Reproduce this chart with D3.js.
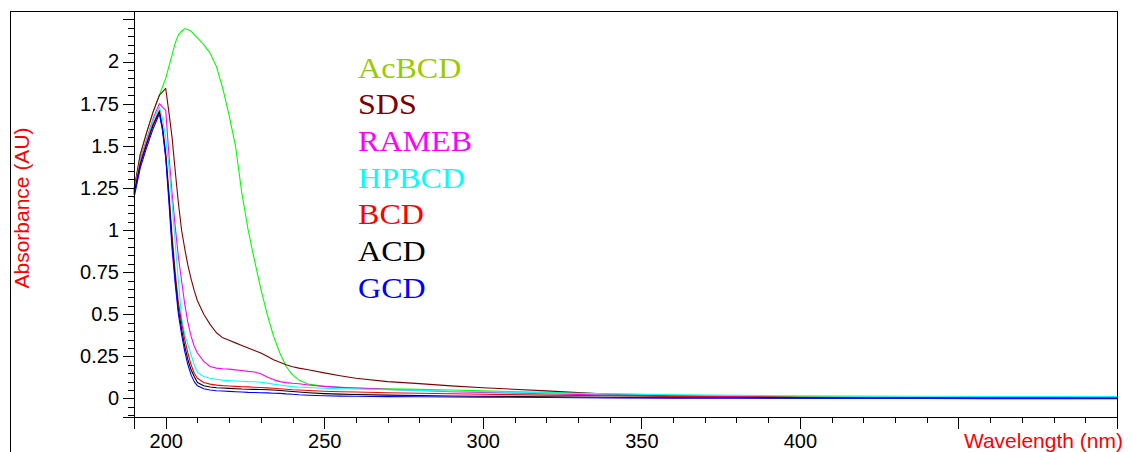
<!DOCTYPE html>
<html><head><meta charset="utf-8">
<script src="https://cdn.jsdelivr.net/npm/d3@7"></script>
<style>
html,body{margin:0;padding:0;background:#fff;}
svg{display:block;}
</style></head>
<body>
<svg id="chart" width="1132" height="452"></svg>
<script>
// ---- data ----
const wavelengths = [190,192,194,196,198,199,200,201,202,203,204,205,206,207,208,209,210,212,214,216,218,220,222,224,226,228,230,232,234,236,238,240,242,245,250,255,260,270,280,290,300,320,340,360,380,400,420,440,460,480,500];
const AcBCD = [1.24,1.45,1.58,1.70,1.80,1.85,1.90,1.97,2.04,2.11,2.16,2.18,2.195,2.19,2.18,2.16,2.14,2.10,2.05,1.97,1.84,1.68,1.50,1.22,1.00,0.82,0.65,0.50,0.37,0.27,0.19,0.14,0.11,0.085,0.072,0.066,0.062,0.058,0.054,0.05,0.045,0.036,0.027,0.02,0.014,0.01,0.008,0.007,0.007,0.006,0.006];
const SDS = [1.24,1.45,1.58,1.70,1.80,1.82,1.84,1.70,1.55,1.35,1.16,1.00,0.89,0.79,0.71,0.64,0.58,0.50,0.44,0.39,0.36,0.345,0.33,0.315,0.30,0.285,0.27,0.25,0.23,0.215,0.20,0.188,0.18,0.17,0.152,0.135,0.12,0.10,0.088,0.075,0.064,0.045,0.025,0.014,0.008,0.003,0.002,0.002,0.001,0.0,0.0];
const RAMEB = [1.23,1.42,1.54,1.66,1.75,1.73,1.71,1.45,1.22,1.02,0.84,0.70,0.56,0.45,0.37,0.31,0.27,0.22,0.19,0.18,0.176,0.174,0.17,0.166,0.161,0.157,0.147,0.128,0.112,0.10,0.094,0.09,0.087,0.08,0.072,0.066,0.062,0.054,0.047,0.04,0.036,0.028,0.02,0.015,0.01,0.006,0.005,0.004,0.004,0.003,0.003];
const HPBCD = [1.22,1.41,1.53,1.65,1.73,1.66,1.55,1.38,1.16,0.92,0.70,0.48,0.38,0.32,0.26,0.20,0.155,0.13,0.12,0.114,0.109,0.106,0.104,0.102,0.10,0.099,0.096,0.091,0.085,0.08,0.075,0.071,0.068,0.065,0.061,0.058,0.056,0.052,0.048,0.043,0.04,0.033,0.027,0.022,0.019,0.016,0.014,0.013,0.012,0.012,0.011];
const BCD = [1.22,1.40,1.52,1.63,1.71,1.61,1.46,1.23,0.97,0.75,0.57,0.45,0.35,0.27,0.20,0.15,0.12,0.095,0.085,0.079,0.076,0.074,0.072,0.07,0.069,0.067,0.065,0.063,0.061,0.058,0.055,0.052,0.05,0.047,0.043,0.04,0.038,0.034,0.031,0.028,0.025,0.02,0.016,0.012,0.009,0.007,0.006,0.005,0.004,0.004,0.003];
const ACD = [1.21,1.39,1.51,1.62,1.70,1.60,1.44,1.20,0.93,0.71,0.53,0.41,0.31,0.23,0.17,0.13,0.095,0.075,0.068,0.064,0.062,0.06,0.058,0.056,0.055,0.054,0.053,0.052,0.05,0.047,0.044,0.041,0.038,0.034,0.029,0.026,0.024,0.02,0.018,0.015,0.013,0.01,0.007,0.005,0.004,0.003,0.003,0.002,0.002,0.002,0.001];
const GCD = [1.19,1.37,1.49,1.60,1.69,1.59,1.43,1.17,0.89,0.68,0.50,0.38,0.28,0.20,0.14,0.10,0.075,0.058,0.05,0.046,0.044,0.042,0.04,0.038,0.036,0.035,0.034,0.033,0.031,0.03,0.027,0.025,0.022,0.019,0.016,0.014,0.013,0.011,0.01,0.009,0.008,0.006,0.003,0.002,0.001,0.001,0.0,0.0,-0.001,-0.001,-0.002];

const seriesNames = ["AcBCD","SDS","RAMEB","HPBCD","BCD","ACD","GCD"];
const seriesValues = [AcBCD, SDS, RAMEB, HPBCD, BCD, ACD, GCD];
const lineColors = ["#00ff00","#800000","#ff00ff","#00ffff","#ff0000","#000000","#0000ff"];
const legendColors = ["#99cc00","#800000","#ff00ff","#00ffff","#ff0000","#000000","#0000ff"];

const xMajorTicks = [200,250,300,350,400,450,500];
const xTickLabels = [200,250,300,350,400];
const yMajorTicks = [0,0.25,0.5,0.75,1,1.25,1.5,1.75,2,2.25];
const yTickLabels = ["0","0.25","0.5","0.75","1","1.25","1.5","1.75","2"];
const xTitle = "Wavelength (nm)";
const yTitle = "Absorbance (AU)";

// ---- layout ----
const svg = d3.select("#chart");
const L = 134, R = 1117, T = 11, B = 417;
const x = d3.scaleLinear().domain([190, 500]).range([L, R]);
const y = d3.scaleLinear().domain([-0.11, 2.30]).range([B, T]);
const sansFont = "'Liberation Sans', Arial, sans-serif";

// outer frame lines
svg.append("path")
  .attr("d", `M10.5,452 V${T+0.5} H${R+0.5} V${B}`)
  .attr("fill","none").attr("stroke","#000").attr("stroke-width",1)
  .attr("shape-rendering","crispEdges");

// lines
const line = d3.line().x((d,i)=>x(wavelengths[i])).y(d=>y(d));
const g = svg.append("g");
seriesValues.forEach((vals, k) => {
  g.append("path").datum(vals)
    .attr("d", line)
    .attr("fill","none")
    .attr("stroke", lineColors[k])
    .attr("stroke-width", 1.1)
    .attr("stroke-linejoin","round");
});

// x minor ticks
const xMinor = d3.range(190, 501, 10);
const xAxisMinor = d3.axisBottom(x).tickValues(xMinor).tickSize(6).tickFormat("");
svg.append("g").attr("transform", `translate(0,${B})`).call(xAxisMinor);
// x major ticks
const xAxisMajor = d3.axisBottom(x).tickValues(xMajorTicks).tickSize(12)
  .tickFormat(d => xTickLabels.includes(d) ? String(d) : "");
const gx = svg.append("g").attr("transform", `translate(0,${B})`).call(xAxisMajor);
gx.selectAll("text").attr("y", 31).attr("dy", 0)
  .attr("font-size", 20).attr("font-family", sansFont).attr("fill","#000");

// y minor
const yMinor = d3.range(-0.1, 2.301, 0.05).map(v => +v.toFixed(2));
const yAxisMinor = d3.axisLeft(y).tickValues(yMinor).tickSize(6).tickFormat("");
svg.append("g").attr("transform", `translate(${L},0)`).call(yAxisMinor);
const yAxisMajor = d3.axisLeft(y).tickValues(yMajorTicks).tickSize(11).tickPadding(4)
  .tickFormat((d,i) => i < yTickLabels.length ? yTickLabels[i] : "");
const gy = svg.append("g").attr("transform", `translate(${L},0)`).call(yAxisMajor);
gy.selectAll("text").attr("font-size", 20).attr("font-family", sansFont).attr("fill","#000");

svg.selectAll(".domain").attr("stroke","#000").attr("shape-rendering","crispEdges");
svg.selectAll(".tick line").attr("stroke","#000").attr("shape-rendering","crispEdges");

// titles
svg.append("text").attr("x", 1123).attr("y", 448)
  .attr("text-anchor","end").attr("font-size", 21).attr("font-family", sansFont)
  .attr("fill","#ff0000").text(xTitle);
svg.append("text").attr("transform","translate(29,208) rotate(-90)")
  .attr("text-anchor","middle").attr("font-size", 21).attr("font-family", sansFont)
  .attr("fill","#ff0000").text(yTitle);

// legend
seriesNames.forEach((n, k) => {
  svg.append("text")
    .attr("transform", `translate(358,${77.5 + k*36.7}) scale(1.07,1)`)
    .attr("font-size", 30).attr("font-family","'Liberation Serif','Times New Roman',serif")
    .attr("fill", legendColors[k]).text(n);
});
</script>
</body></html>
